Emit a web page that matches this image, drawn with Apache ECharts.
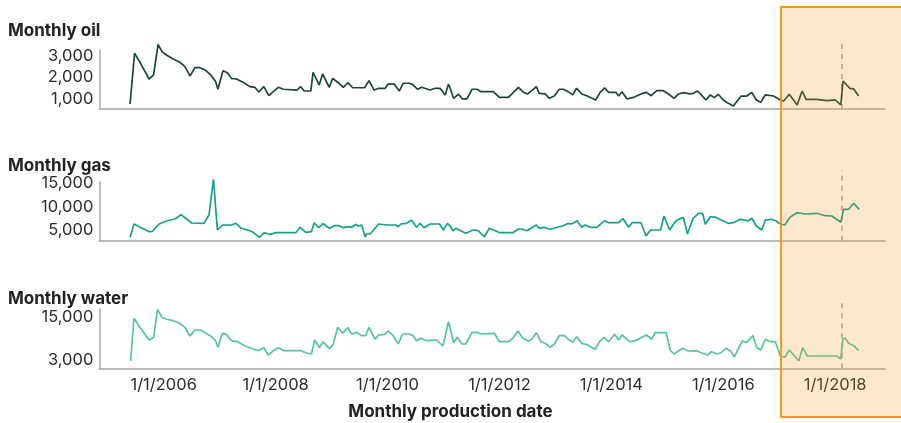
<!DOCTYPE html>
<html><head><meta charset="utf-8">
<script src="https://cdn.jsdelivr.net/npm/echarts@6/dist/echarts.min.js"></script>
<style>html,body{margin:0;padding:0;background:#fff}#c{width:901px;height:423px}</style>
</head><body><div id="c"></div>
<script>
// x values are decimal years (production month)
const oilYears=[2005.40,2005.48,2005.57,2005.74,2005.82,2005.90,2005.97,2006.05,2006.17,2006.29,
2006.38,2006.47,2006.56,2006.65,2006.74,2006.84,2006.93,2006.97,2007.06,2007.14,
2007.21,2007.30,2007.42,2007.54,2007.63,2007.70,2007.79,2007.88,2007.96,2008.05,
2008.14,2008.38,2008.45,2008.51,2008.63,2008.67,2008.78,2008.84,2008.96,2009.02,
2009.12,2009.21,2009.29,2009.38,2009.59,2009.67,2009.76,2009.84,2009.96,2010.01,
2010.12,2010.21,2010.28,2010.40,2010.46,2010.54,2010.61,2010.76,2010.85,2010.94,
2011.03,2011.09,2011.12,2011.18,2011.27,2011.34,2011.42,2011.51,2011.60,2011.67,
2011.89,2012.00,2012.16,2012.25,2012.34,2012.43,2012.50,2012.58,2012.66,2012.71,
2012.82,2012.89,2012.98,2013.07,2013.14,2013.23,2013.31,2013.38,2013.47,2013.56,
2013.72,2013.80,2013.88,2013.95,2014.08,2014.13,2014.19,2014.28,2014.40,2014.56,
2014.63,2014.71,2014.81,2014.93,2015.02,2015.12,2015.20,2015.29,2015.40,2015.47,
2015.54,2015.62,2015.69,2015.77,2015.84,2015.91,2016.00,2016.09,2016.18,2016.32,
2016.42,2016.51,2016.59,2016.67,2016.75,2016.90,2017.02,2017.08,2017.18,2017.32,
2017.41,2017.48,2017.67,2017.85,2018.00,2018.10,2018.14,2018.26,2018.33,2018.42];
const oilValues=[785,3110,2725,1930,2115,3520,3185,3030,2850,2700,
2500,2070,2450,2450,2345,2115,1810,1460,2310,2220,
1960,1930,1780,1580,1550,1335,1580,1165,1350,1550,
1460,1425,1580,1380,1380,2240,1655,2160,1550,1960,
1760,1550,1760,1530,1530,1855,1425,1505,1505,1700,
1700,1380,1735,1735,1655,1460,1550,1425,1505,1505,
1200,1700,1505,1045,1230,1015,1015,1460,1460,1350,
1350,1090,1090,1320,1550,1320,1245,1395,1580,1275,
1245,1045,1150,1460,1460,1350,1200,1505,1245,1165,
970,1320,1530,1320,1320,1150,1350,1015,1090,1275,
1320,1165,1395,1395,1245,1045,1245,1305,1245,1275,
1380,1165,970,1200,1075,1230,970,815,690,1150,
1150,1320,970,860,1200,1150,970,920,1230,740,
1380,1000,1000,935,970,740,1840,1505,1475,1150];

const gasYears=[2005.40,2005.47,2005.74,2005.80,2005.92,2006.05,2006.17,2006.21,2006.31,2006.50,
2006.72,2006.81,2006.89,2006.96,2007.05,2007.21,2007.29,2007.39,2007.54,2007.60,
2007.71,2007.80,2007.89,2008.02,2008.36,2008.44,2008.54,2008.64,2008.69,2008.77,
2008.85,2008.96,2009.05,2009.14,2009.21,2009.30,2009.36,2009.39,2009.44,2009.48,
2009.54,2009.60,2009.63,2009.69,2009.84,2009.99,2010.15,2010.19,2010.24,2010.34,
2010.43,2010.52,2010.58,2010.65,2010.76,2010.93,2011.00,2011.07,2011.12,2011.17,
2011.22,2011.40,2011.53,2011.62,2011.73,2011.82,2012.01,2012.24,2012.34,2012.40,
2012.49,2012.66,2012.71,2012.79,2012.91,2013.04,2013.14,2013.23,2013.29,2013.39,
2013.47,2013.53,2013.62,2013.74,2013.88,2013.95,2014.13,2014.21,2014.31,2014.37,
2014.53,2014.62,2014.70,2014.88,2014.94,2015.04,2015.15,2015.24,2015.29,2015.36,
2015.46,2015.56,2015.63,2015.68,2015.77,2015.86,2016.09,2016.18,2016.30,2016.39,
2016.44,2016.51,2016.59,2016.69,2016.75,2016.85,2016.94,2017.02,2017.10,2017.19,
2017.32,2017.46,2017.67,2017.82,2017.94,2018.10,2018.15,2018.24,2018.33,2018.43];
const gasValues=[3410,6265,4615,4700,6265,6910,7275,7400,8262,6480,
6415,8197,15860,4978,6050,6050,6415,5343,4828,4485,
3410,4400,4055,4400,4400,5558,4485,4615,6545,5472,
6330,5343,5900,5900,5472,5686,5558,5343,6200,5836,
6050,3540,4120,4120,6265,6050,6050,5686,6265,6415,
7060,5558,6415,5472,6265,6265,4978,6415,5836,4828,
5343,4270,4978,4828,3540,5343,4400,4400,5193,5193,
4828,6050,5343,5558,5128,5558,5900,6415,6265,6974,
5558,6050,5558,5558,6974,6545,6545,7400,5558,6545,
6545,3690,4978,4978,7983,4978,6910,7490,7620,4120,
7490,8562,8562,6200,7833,7704,6415,6545,7275,7124,
6910,7490,5836,4978,7124,7275,6974,6265,6050,7704,
8691,8412,8562,8048,7983,6630,9420,9420,10708,9420];

const waterYears=[2005.41,2005.47,2005.57,2005.74,2005.82,2005.89,2005.97,2006.05,2006.17,2006.29,
2006.38,2006.47,2006.56,2006.65,2006.74,2006.86,2006.93,2006.97,2007.05,2007.12,
2007.21,2007.30,2007.45,2007.60,2007.69,2007.79,2007.87,2007.96,2008.05,2008.15,
2008.45,2008.54,2008.64,2008.70,2008.78,2008.85,2008.96,2009.03,2009.11,2009.20,
2009.29,2009.36,2009.44,2009.54,2009.61,2009.67,2009.78,2009.84,2009.96,2010.01,
2010.10,2010.19,2010.27,2010.40,2010.46,2010.52,2010.59,2010.70,2010.88,2010.99,
2011.09,2011.12,2011.18,2011.25,2011.33,2011.40,2011.51,2011.60,2011.67,2011.91,
2012.00,2012.16,2012.24,2012.33,2012.42,2012.52,2012.58,2012.66,2012.74,2012.82,
2012.91,2012.98,2013.07,2013.16,2013.25,2013.31,2013.38,2013.47,2013.55,2013.71,
2013.79,2013.87,2013.95,2014.06,2014.13,2014.19,2014.33,2014.43,2014.56,2014.63,
2014.72,2014.78,2014.98,2015.05,2015.12,2015.20,2015.27,2015.38,2015.53,2015.60,
2015.72,2015.79,2015.89,2015.96,2016.05,2016.13,2016.20,2016.34,2016.42,2016.53,
2016.60,2016.67,2016.75,2016.84,2016.93,2017.02,2017.10,2017.18,2017.35,2017.42,
2017.50,2017.73,2018.03,2018.10,2018.14,2018.18,2018.24,2018.33,2018.42];
const waterValues=[2720,14720,12360,8620,9380,17250,15000,14440,14045,13315,
12190,9745,11430,11430,10675,9550,8340,6570,10500,10225,
8425,8255,7020,6090,5615,6460,4410,5615,6460,5615,
5615,5050,4690,8620,6460,8145,6190,7410,12190,10500,
12080,10225,10785,9830,9830,12190,8820,10025,10225,11150,
9830,7500,10310,10310,9745,8425,9100,8425,8620,6935,
13765,11910,7865,9380,7500,7500,10785,10785,10310,10500,
8145,8145,9100,11150,9100,8340,8820,10675,8145,7690,
6570,7500,9830,9830,8620,7975,9550,7690,7410,6010,
8145,9380,8145,10225,8620,10025,8145,8425,9550,10025,
8820,10675,10675,5810,4690,5530,6290,5530,5615,5050,
4410,5330,4690,5050,6290,5530,3930,8340,7975,9830,
6460,5810,8820,8145,8145,4125,3760,5810,2805,6460,
4125,4125,4125,3280,9100,9100,7690,7020,5615];

const xTickYears=[2006,2008,2010,2012,2014,2016,2018];
const oilTicks=[1000,2000,3000];
const gasTicks=[5000,10000,15000];
const waterTicks=[3000,15000];
const panelTitles=['Monthly oil','Monthly gas','Monthly water'];
const xTitle='Monthly production date';
const highlightStart=2017.03;
const markerYear=2018.12;
const markerTop=[3583,17854,19384];

const FONT='Inter';
const xRange=[2004.85,2018.89];
const yRanges=[[555,3261],[2682,15343],[667,17248]];
const gridTops=[50,181.7,309.3];
const colors=['#1c4733','#17a08a','#55c59b'];
const valuesList=[[oilYears,oilValues],[gasYears,gasValues],[waterYears,waterValues]];
const ticksList=[oilTicks,gasTicks,waterTicks];
const titleTops=[22,157.5,290];

const zip=(a,b)=>a.map((x,i)=>[x,b[i]]);
const fmt=v=>Number(v).toLocaleString('en-US');
const axisLine={show:true,onZero:false,lineStyle:{color:'#a8a8a8',width:1.5}};

const chart=echarts.init(document.getElementById('c'),null,{renderer:'canvas'});
const grids=[],xAxes=[],yAxes=[],series=[];
for(let i=0;i<3;i++){
  grids.push({left:99.3,right:16,top:gridTops[i],height:59,containLabel:false});
  xAxes.push({type:'value',gridIndex:i,min:xRange[0],max:xRange[1],
    axisLine:axisLine,axisTick:{show:false},splitLine:{show:false},
    axisLabel:{show:i===2,customValues:xTickYears,formatter:v=>'1/1/'+Math.round(v),
      color:'#2d2d2d',fontFamily:FONT,fontSize:16.5,margin:8}});
  yAxes.push({type:'value',gridIndex:i,min:yRanges[i][0],max:yRanges[i][1],
    axisLine:axisLine,axisTick:{show:false},splitLine:{show:false},
    axisLabel:{customValues:ticksList[i],formatter:fmt,color:'#2d2d2d',fontFamily:FONT,fontSize:16.5,margin:6}});
  series.push({type:'line',xAxisIndex:i,yAxisIndex:i,data:zip(valuesList[i][0],valuesList[i][1]),
    showSymbol:false,symbol:'none',clip:false,lineStyle:{color:colors[i],width:1.7},z:3});
  series.push({type:'line',xAxisIndex:i,yAxisIndex:i,
    data:[[markerYear,yRanges[i][0]],[markerYear,markerTop[i]]],
    showSymbol:false,symbol:'none',clip:false,silent:true,
    lineStyle:{color:'#a9a9a9',width:1.5,type:[5,5]},z:2});
}
const titles=panelTitles.map((t,i)=>({text:t,left:8,top:titleTops[i],padding:0,
  textStyle:{fontFamily:FONT,fontSize:17,fontWeight:700,color:'#222'}}));
titles.push({text:xTitle,left:'center',top:403,padding:0,textStyle:{fontFamily:FONT,fontSize:17,fontWeight:700,color:'#222'}});

chart.setOption({animation:false,backgroundColor:'#fff',title:titles,grid:grids,xAxis:xAxes,yAxis:yAxes,series:series});
const bx=chart.convertToPixel({xAxisIndex:2},highlightStart);
chart.setOption({graphic:[{type:'rect',z:100,silent:true,
  shape:{x:bx,y:7,width:901-bx+20,height:410},
  style:{fill:'rgba(247,147,30,0.21)',stroke:'#f7941d',lineWidth:2}}]});
</script></body></html>
